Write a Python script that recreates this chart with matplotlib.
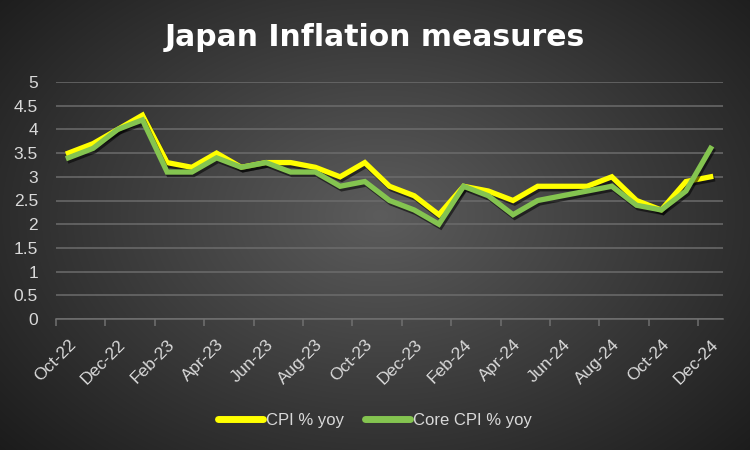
import numpy as np
import matplotlib
matplotlib.use("Agg")
import matplotlib.pyplot as plt
import matplotlib.patheffects as pe

months = ['Oct-22', 'Nov-22', 'Dec-22', 'Jan-23', 'Feb-23', 'Mar-23', 'Apr-23', 'May-23',
          'Jun-23', 'Jul-23', 'Aug-23', 'Sep-23', 'Oct-23', 'Nov-23', 'Dec-23', 'Jan-24',
          'Feb-24', 'Mar-24', 'Apr-24', 'May-24', 'Jun-24', 'Jul-24', 'Aug-24', 'Sep-24',
          'Oct-24', 'Nov-24', 'Dec-24']
cpi = [3.5, 3.7, 4.0, 4.3, 3.3, 3.2, 3.5, 3.2, 3.3, 3.3, 3.2, 3.0, 3.3, 2.8, 2.6, 2.2,
       2.8, 2.7, 2.5, 2.8, 2.8, 2.8, 3.0, 2.5, 2.3, 2.9, 3.0]
core = [3.4, 3.6, 4.0, 4.2, 3.1, 3.1, 3.4, 3.2, 3.3, 3.1, 3.1, 2.8, 2.9, 2.5, 2.3, 2.0,
        2.8, 2.6, 2.2, 2.5, 2.6, 2.7, 2.8, 2.4, 2.3, 2.7, 3.6]
yticks = [0, 0.5, 1, 1.5, 2, 2.5, 3, 3.5, 4, 4.5, 5]
ytick_labels = ['0', '0.5', '1', '1.5', '2', '2.5', '3', '3.5', '4', '4.5', '5']

plt.rcParams['font.family'] = ['Liberation Sans', 'DejaVu Sans']

fig = plt.figure(figsize=(7.5, 4.5), dpi=100)

# radial gradient background
bg = fig.add_axes([0, 0, 1, 1], zorder=-10)
yy, xx = np.mgrid[0:450, 0:750]
d = np.sqrt(((xx - 380) / 520.0) ** 2 + ((yy - 215) / 360.0) ** 2)
d = np.clip(d, 0, 1)
inner = np.array([0x5c, 0x5c, 0x5c]) / 255.0
outer = np.array([0x1a, 0x1a, 0x1a]) / 255.0
img = inner[None, None, :] * (1 - d[..., None]) + outer[None, None, :] * d[..., None]
bg.imshow(img, aspect='auto', extent=[0, 1, 0, 1], origin='upper')
bg.axis('off')

ax = fig.add_axes([56 / 750, 131 / 450, 667 / 750, 237 / 450])
ax.set_facecolor('none')
x = np.arange(len(months))

shadow = [pe.SimpleLineShadow(offset=(1.2, -1.8), shadow_color='black', alpha=0.55), pe.Normal()]
ax.plot(x, cpi, color='#ffff00', lw=3.8, label='CPI % yoy', solid_joinstyle='miter',
        path_effects=shadow, zorder=3)
ax.plot(x, core, color='#84c450', lw=3.8, label='Core CPI % yoy', solid_joinstyle='miter',
        path_effects=shadow, zorder=4)

ax.set_xlim(-0.5, len(months) - 0.5)
ax.set_ylim(0, 5)
ax.set_yticks(yticks)
ax.set_yticklabels(ytick_labels)
ax.yaxis.grid(True, color='#6c6c6c', lw=1.1)
ax.set_axisbelow(True)
for s in ['top', 'right', 'left']:
    ax.spines[s].set_visible(False)
ax.spines['bottom'].set_color('#707070')
ax.spines['bottom'].set_linewidth(1.1)

ax.set_xticks(x[::2])
ax.set_xticklabels(months[::2], rotation=45, ha='right', va='top', rotation_mode='anchor')
ax.set_xticks(np.arange(-0.5, len(months), 2), minor=True)
ax.tick_params(axis='x', which='major', length=0, pad=13, labelsize=12.5, labelcolor='#d9d9d9')
ax.tick_params(axis='x', which='minor', length=5, width=1.1, color='#707070', direction='out')
ax.tick_params(axis='y', length=0, pad=13, labelsize=12.5, labelcolor='#d9d9d9')
for lbl in ax.get_yticklabels():
    lbl.set_horizontalalignment('right')

fig.text(0.5, 1 - 37 / 450, 'Japan Inflation measures', ha='center', va='center',
         fontsize=21.5, fontweight='bold', color='white', family=['DejaVu Sans'])

leg = fig.legend(loc='center', bbox_to_anchor=(0.5, 1 - 420 / 450), ncol=2, frameon=False,
                 handlelength=2.7, handletextpad=0.15, columnspacing=1.3, fontsize=12)
for t in leg.get_texts():
    t.set_color('#d9d9d9')
for h in leg.get_lines():
    h.set_path_effects([])
    h.set_solid_capstyle('round')
    h.set_linewidth(5)

fig.savefig('out.png', dpi=100)
